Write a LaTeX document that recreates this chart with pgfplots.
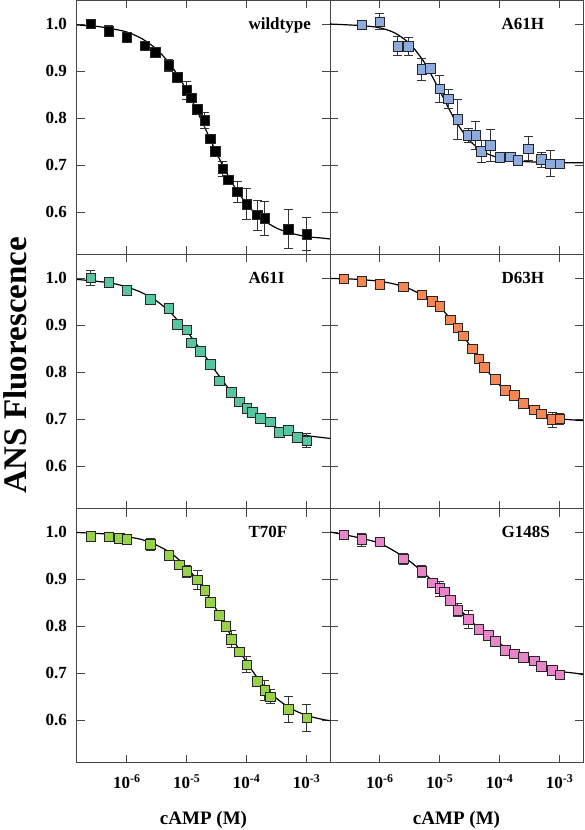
\documentclass[border=0pt]{standalone}
\usepackage{fontspec}
\setmainfont{Liberation Serif}
\usepackage{pgfplots}
\usepackage{pgfplotstable}
\pgfplotsset{compat=1.18}
\usepgfplotslibrary{groupplots}

\definecolor{cA61H}{RGB}{143,170,220}
\definecolor{cA61I}{RGB}{86,197,160}
\definecolor{cD63H}{RGB}{246,134,84}
\definecolor{cT70F}{RGB}{152,210,72}
\definecolor{cG148S}{RGB}{234,132,200}
\definecolor{framegray}{RGB}{70,70,70}

% measured titration points: cAMP (M), relative ANS fluorescence, error
\pgfplotstableread{
x y e
2.5e-7 1.000 0.004
5e-7 0.985 0.011
1e-6 0.972 0.011
2e-6 0.954 0.005
3e-6 0.940 0.006
5e-6 0.912 0.012
7e-6 0.886 0.006
1e-5 0.859 0.020
1.2e-5 0.843 0.010
1.5e-5 0.819 0.006
2e-5 0.795 0.017
2.5e-5 0.756 0.006
3e-5 0.729 0.008
4e-5 0.692 0.015
5e-5 0.669 0.010
7e-5 0.643 0.023
1e-4 0.617 0.033
1.5e-4 0.594 0.032
2e-4 0.587 0.036
5e-4 0.564 0.041
1e-3 0.553 0.035
}\dataWT
\pgfplotstableread{
x y
1.48e-7 0.998
3.16e-7 0.995
5.62e-7 0.990
1e-6 0.983
1.78e-6 0.969
3.16e-6 0.946
5.62e-6 0.910
1e-5 0.859
1.78e-5 0.794
3.16e-5 0.725
5.62e-5 0.664
1e-4 0.617
1.78e-4 0.586
3.16e-4 0.566
5.62e-4 0.555
1e-3 0.548
1.78e-3 0.545
2.45e-3 0.543
}\fitWT

\pgfplotstableread{
x y e
5e-7 0.998 0.005
1e-6 1.005 0.017
2e-6 0.953 0.020
3e-6 0.953 0.019
5e-6 0.904 0.023
7e-6 0.906 0.006
1e-5 0.862 0.029
1.4e-5 0.841 0.020
2e-5 0.797 0.043
3e-5 0.763 0.015
4e-5 0.763 0.030
5e-5 0.729 0.023
7e-5 0.742 0.034
1e-4 0.716 0.011
1.5e-4 0.718 0.006
2e-4 0.710 0.008
3e-4 0.735 0.026
5e-4 0.712 0.016
7e-4 0.703 0.028
1e-3 0.703 0.006
}\dataAH
\pgfplotstableread{
x y
1.48e-7 1.000
3.16e-7 0.998
5.62e-7 0.996
1e-6 0.992
1.78e-6 0.981
3.16e-6 0.958
5.62e-6 0.917
1e-5 0.858
1.78e-5 0.797
3.16e-5 0.752
5.62e-5 0.727
1e-4 0.715
1.78e-4 0.709
3.16e-4 0.707
5.62e-4 0.706
1e-3 0.705
2.45e-3 0.705
}\fitAH

\pgfplotstableread{
x y e
2.5e-7 1.000 0.016
5e-7 0.991 0.006
1e-6 0.974 0.005
2.5e-6 0.955 0.006
5e-6 0.935 0.006
7e-6 0.902 0.006
1e-5 0.890 0.006
1.2e-5 0.862 0.006
1.7e-5 0.844 0.006
2.5e-5 0.817 0.005
3.5e-5 0.781 0.006
5.5e-5 0.757 0.010
7.5e-5 0.737 0.010
1e-4 0.723 0.010
1.25e-4 0.715 0.008
1.7e-4 0.702 0.008
2.5e-4 0.694 0.010
3.5e-4 0.672 0.006
5e-4 0.676 0.008
7e-4 0.661 0.006
1e-3 0.654 0.015
}\dataAI
\pgfplotstableread{
x y
1.48e-7 0.997
3.16e-7 0.993
5.62e-7 0.989
1e-6 0.981
1.78e-6 0.969
3.16e-6 0.951
5.62e-6 0.924
1e-5 0.887
1.78e-5 0.844
3.16e-5 0.799
5.62e-5 0.757
1e-4 0.723
1.78e-4 0.699
3.16e-4 0.682
5.62e-4 0.671
1e-3 0.665
1.78e-3 0.661
2.45e-3 0.659
}\fitAI

\pgfplotstableread{
x y e
2.5e-7 0.998 0.004
5e-7 0.993 0.004
1e-6 0.987 0.004
2.5e-6 0.981 0.005
5e-6 0.964 0.005
7.5e-6 0.950 0.005
1e-5 0.940 0.005
1.5e-5 0.911 0.005
2e-5 0.894 0.005
2.5e-5 0.877 0.005
3.5e-5 0.849 0.005
4.5e-5 0.828 0.005
5.5e-5 0.810 0.005
8.5e-5 0.784 0.005
1.25e-4 0.761 0.005
1.75e-4 0.750 0.005
2.5e-4 0.734 0.005
3.75e-4 0.720 0.006
5e-4 0.711 0.008
7.5e-4 0.699 0.016
1e-3 0.701 0.012
}\dataDH
\pgfplotstableread{
x y
1.48e-7 0.999
3.16e-7 0.998
5.62e-7 0.996
1e-6 0.993
1.78e-6 0.987
3.16e-6 0.977
5.62e-6 0.960
1e-5 0.938
1.78e-5 0.902
3.16e-5 0.857
5.62e-5 0.810
1e-4 0.772
1.78e-4 0.745
3.16e-4 0.724
5.62e-4 0.709
1e-3 0.701
1.78e-3 0.698
2.45e-3 0.697
}\fitDH

\pgfplotstableread{
x y e
2.5e-7 0.991 0.005
5e-7 0.990 0.005
7.5e-7 0.987 0.005
1e-6 0.984 0.005
2.5e-6 0.974 0.013
5e-6 0.951 0.010
7.5e-6 0.930 0.010
1e-5 0.916 0.012
1.5e-5 0.898 0.021
2e-5 0.876 0.010
2.5e-5 0.850 0.010
3.5e-5 0.823 0.010
4.5e-5 0.799 0.010
5.5e-5 0.772 0.018
7.5e-5 0.745 0.010
1e-4 0.718 0.017
1.5e-4 0.683 0.010
2e-4 0.663 0.021
2.5e-4 0.650 0.015
5e-4 0.623 0.028
1e-3 0.605 0.029
}\dataTF
\pgfplotstableread{
x y
1.48e-7 0.999
3.16e-7 0.997
5.62e-7 0.995
1e-6 0.990
1.78e-6 0.984
3.16e-6 0.972
5.62e-6 0.954
1e-5 0.925
1.78e-5 0.885
3.16e-5 0.834
5.62e-5 0.777
1e-4 0.723
1.78e-4 0.678
3.16e-4 0.646
5.62e-4 0.624
1e-3 0.610
1.78e-3 0.602
2.45e-3 0.599
}\fitTF

\pgfplotstableread{
x y e
2.5e-7 0.994 0.008
5e-7 0.984 0.014
1e-6 0.979 0.005
2.5e-6 0.943 0.012
5e-6 0.916 0.013
7.5e-6 0.892 0.010
1e-5 0.880 0.016
1.2e-5 0.873 0.010
1.5e-5 0.855 0.010
2e-5 0.834 0.014
3e-5 0.814 0.019
4.5e-5 0.793 0.006
6.5e-5 0.780 0.006
8.5e-5 0.768 0.006
1.25e-4 0.749 0.006
1.75e-4 0.741 0.006
2.5e-4 0.734 0.006
3.75e-4 0.726 0.006
5e-4 0.715 0.006
7.5e-4 0.706 0.006
1e-3 0.696 0.006
}\dataGS
\pgfplotstableread{
x y
1.48e-7 1.000
3.16e-7 0.992
5.62e-7 0.985
1e-6 0.976
1.78e-6 0.959
3.16e-6 0.938
5.62e-6 0.911
1e-5 0.882
1.78e-5 0.847
3.16e-5 0.814
5.62e-5 0.785
1e-4 0.763
1.78e-4 0.742
3.16e-4 0.727
5.62e-4 0.715
1e-3 0.704
1.78e-3 0.700
2.45e-3 0.697
}\fitGS

\tikzset{
  plabel/.style={anchor=base west, xshift=168bp, yshift=-29bp,
    font=\fontsize{17bp}{17bp}\selectfont\bfseries},
}
\pgfplotsset{
  panel/.style={
    xmode=log, xmin=1.48e-7, xmax=2.45e-3, ymin=0.51, ymax=1.05,
    scale only axis, width=253bp, height=254bp,
    axis line style={framegray, line width=1bp},
    tick style={framegray, line width=1bp}, major tick length=8bp,
    tick align=inside, tick pos=both, xminorticks=false,
    xtick={1e-6,1e-5,1e-4,1e-3},
    ytick={0.6,0.7,0.8,0.9,1.0},
    xticklabels={}, yticklabels={},
    every tick label/.append style={font=\fontsize{17bp}{17bp}\selectfont\bfseries, inner sep=0pt},
    yticklabel style={anchor=east, inner sep=0pt, xshift=-10bp},
    xticklabel style={anchor=base, inner sep=0pt, yshift=-26bp},
    clip=false,
  },
  leftcol/.style={yticklabels={0.6,0.7,0.8,0.9,1.0}},
  bottomrow/.style={xticklabels={10\textsuperscript{-6},10\textsuperscript{-5},10\textsuperscript{-4},10\textsuperscript{-3}}},
  fitline/.style={black, line width=1.2bp, smooth, no marks},
  pts/.style={only marks, mark=square*, mark size=4.8bp,
    mark options={fill=#1, draw=black!85, line width=0.7bp},
    error bars/.cd, y dir=both, y explicit,
    error bar style={black!80, line width=0.8bp},
    error mark options={black!80, line width=0.8bp, mark size=4.5bp, rotate=90}},
}

\begin{document}
\begin{tikzpicture}
\begin{groupplot}[group style={group size=2 by 3, horizontal sep=0pt, vertical sep=0pt, group name=G}, panel]
\nextgroupplot[leftcol]
  \addplot[fitline] table[x=x,y=y] {\fitWT};
  \addplot[pts=black] table[x=x,y=y,y error=e] {\dataWT};
  \node[plabel] at (rel axis cs:0,1) {wildtype};
\nextgroupplot
  \addplot[fitline] table[x=x,y=y] {\fitAH};
  \addplot[pts=cA61H] table[x=x,y=y,y error=e] {\dataAH};
  \node[plabel] at (rel axis cs:0,1) {A61H};
\nextgroupplot[leftcol]
  \addplot[fitline] table[x=x,y=y] {\fitAI};
  \addplot[pts=cA61I] table[x=x,y=y,y error=e] {\dataAI};
  \node[plabel] at (rel axis cs:0,1) {A61I};
\nextgroupplot
  \addplot[fitline] table[x=x,y=y] {\fitDH};
  \addplot[pts=cD63H] table[x=x,y=y,y error=e] {\dataDH};
  \node[plabel] at (rel axis cs:0,1) {D63H};
\nextgroupplot[leftcol, bottomrow]
  \addplot[fitline] table[x=x,y=y] {\fitTF};
  \addplot[pts=cT70F] table[x=x,y=y,y error=e] {\dataTF};
  \node[plabel] at (rel axis cs:0,1) {T70F};
\nextgroupplot[bottomrow]
  \addplot[fitline] table[x=x,y=y] {\fitGS};
  \addplot[pts=cG148S] table[x=x,y=y,y error=e] {\dataGS};
  \node[plabel] at (rel axis cs:0,1) {G148S};
\end{groupplot}
\node[anchor=base, inner sep=0pt, font=\fontsize{19bp}{19bp}\selectfont\bfseries] at ([yshift=-62bp]G c1r3.south) {cAMP (M)};
\node[anchor=base, inner sep=0pt, font=\fontsize{19bp}{19bp}\selectfont\bfseries] at ([yshift=-62bp]G c2r3.south) {cAMP (M)};
\node[anchor=base, rotate=90, inner sep=0pt, font=\fontsize{33bp}{33bp}\selectfont\bfseries] at ([shift={(-50bp,397bp)}]G c1r3.south west) {ANS Fluorescence};
\pgfresetboundingbox
\path[use as bounding box] ([shift={(-77bp,-67.5bp)}]G c1r3.south west) rectangle ([shift={(1bp,0.5bp)}]G c2r1.north east);
\end{tikzpicture}
\end{document}
